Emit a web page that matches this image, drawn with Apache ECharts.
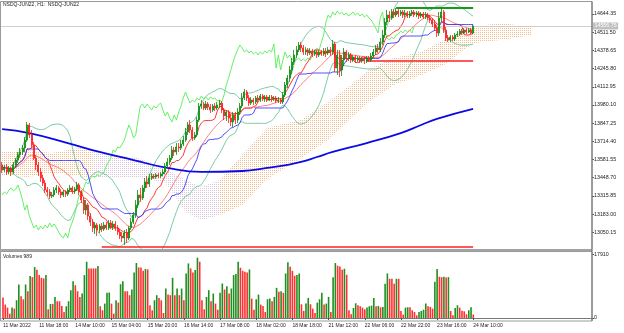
<!DOCTYPE html>
<html><head><meta charset="utf-8">
<script src="https://cdn.jsdelivr.net/npm/echarts/dist/echarts.min.js"></script>
<style>html,body{margin:0;padding:0;background:#fff}#c{width:624px;height:333px}</style>
</head><body><div id="c"></div>
<script>
// ---------- DATA ----------
const xLabels = ["11 Mar 2022","11 Mar 18:00","14 Mar 10:00","15 Mar 04:00","15 Mar 20:00","16 Mar 14:00","17 Mar 08:00","18 Mar 02:00","18 Mar 18:00","21 Mar 12:00","22 Mar 06:00","22 Mar 22:00","23 Mar 16:00","24 Mar 10:00"];
const labelEvery = 16;
// [open, close, low, high]
const ohlc = [
[13542,13505,13483,13564],[13505,13527,13491,13542],[13527,13491,13469,13549],[13491,13520,13476,13534],[13520,13491,13461,13527],
[13491,13542,13476,13564],[13542,13578,13520,13593],[13578,13615,13556,13637],[13615,13637,13593,13666],[13637,13666,13615,13688],
[13666,13724,13637,13746],[13724,13834,13710,13856],[13834,13761,13739,13848],[13761,13688,13666,13797],[13688,13593,13578,13710],
[13593,13542,13505,13615],[13542,13491,13461,13564],[13491,13447,13418,13520],[13447,13410,13388,13469],[13410,13359,13337,13432],
[13359,13345,13315,13381],[13345,13315,13293,13366],[13315,13323,13301,13345],[13323,13359,13308,13381],[13359,13374,13337,13396],
[13374,13345,13323,13388],[13345,13323,13301,13366],[13323,13345,13308,13359],[13345,13330,13308,13359],[13330,13359,13315,13374],
[13359,13374,13345,13396],[13374,13352,13330,13388],[13352,13366,13330,13381],[13366,13396,13352,13418],[13396,13345,13323,13410],
[13345,13286,13264,13359],[13286,13213,13184,13301],[13213,13250,13177,13286],[13250,13169,13140,13264],[13169,13125,13096,13191],
[13125,13082,13052,13147],[13082,13103,13038,13125],[13103,13067,13023,13118],[13067,13096,13045,13111],[13096,13074,13052,13118],
[13074,13103,13060,13125],[13103,13082,13067,13125],[13082,13118,13067,13140],[13118,13089,13074,13140],[13089,13111,13067,13133],
[13111,13082,13060,13133],[13082,13052,13030,13103],[13052,13023,13001,13074],[13023,13009,12979,13052],[13009,13045,12957,13067],
[13045,13009,12972,13074],[13009,13082,12994,13096],[13082,13125,13067,13155],[13125,13177,13111,13198],[13177,13250,13155,13286],
[13250,13323,13228,13359],[13323,13301,13272,13374],[13301,13374,13286,13396],[13374,13418,13345,13447],[13418,13403,13374,13461],
[13403,13447,13381,13476],[13447,13461,13432,13483],[13461,13454,13440,13476],[13454,13469,13440,13483],[13469,13461,13447,13483],
[13461,13476,13447,13491],[13476,13491,13461,13512],[13491,13534,13476,13556],[13534,13564,13520,13593],[13564,13593,13542,13615],
[13593,13651,13578,13680],[13651,13637,13607,13673],[13637,13673,13615,13702],[13673,13666,13637,13702],[13666,13695,13651,13724],
[13695,13724,13680,13753],[13724,13783,13710,13812],[13783,13834,13761,13856],[13834,13797,13775,13870],[13797,13739,13717,13819],
[13739,13761,13724,13783],[13761,13870,13746,13892],[13870,13972,13856,13994],[13972,13987,13951,14016],[13987,13958,13943,14002],
[13958,13987,13943,14009],[13987,13965,13943,14002],[13965,13943,13921,13987],[13943,13972,13929,13987],[13972,13958,13936,13994],
[13958,13980,13943,14002],[13980,13994,13958,14016],[13994,13943,13921,14009],[13943,13900,13870,13958],[13900,13929,13863,13943],
[13929,13885,13848,13943],[13885,13856,13826,13914],[13856,13907,13819,13929],[13907,13870,13841,13929],[13870,13929,13848,13958],
[13929,13972,13907,13994],[13972,14031,13958,14067],[14031,14075,14016,14097],[14075,14031,14009,14089],[14031,13994,13972,14053],
[13994,14016,13980,14038],[14016,14002,13980,14031],[14002,14031,13987,14046],[14031,14016,13994,14053],[14016,14046,14002,14060],
[14046,14024,14009,14060],[14024,14038,14002,14053],[14038,14016,14002,14053],[14016,14038,14009,14053],[14038,14024,14002,14053],
[14024,14031,14009,14046],[14031,14009,13994,14046],[14009,14016,13994,14038],[14016,14002,13987,14031],[14002,14053,13987,14075],
[14053,14126,14038,14148],[14126,14177,14104,14199],[14177,14235,14148,14265],[14235,14294,14206,14323],[14294,14345,14272,14382],
[14345,14382,14323,14411],[14382,14418,14367,14440],[14418,14396,14367,14440],[14396,14367,14345,14418],[14367,14382,14345,14403],
[14382,14360,14338,14396],[14360,14374,14345,14396],[14374,14352,14330,14389],[14352,14367,14338,14382],[14367,14345,14323,14382],
[14345,14367,14330,14382],[14367,14352,14338,14382],[14352,14374,14338,14396],[14374,14360,14330,14396],[14360,14382,14345,14403],
[14382,14367,14338,14403],[14367,14425,14345,14455],[14425,14250,14221,14440],[14250,14345,14199,14382],[14345,14235,14184,14382],
[14235,14308,14192,14345],[14308,14367,14265,14396],[14367,14323,14294,14382],[14323,14345,14301,14367],[14345,14308,14287,14360],
[14308,14330,14294,14345],[14330,14308,14287,14345],[14308,14323,14294,14338],[14323,14301,14287,14338],[14301,14316,14287,14330],
[14316,14301,14279,14330],[14301,14323,14287,14338],[14323,14308,14294,14338],[14308,14338,14294,14360],[14338,14367,14323,14389],
[14367,14396,14345,14418],[14396,14382,14360,14425],[14382,14440,14367,14469],[14440,14491,14418,14528],[14491,14586,14469,14615],
[14586,14637,14564,14674],[14637,14615,14586,14666],[14615,14659,14601,14681],[14659,14637,14615,14681],[14637,14666,14622,14688],
[14666,14644,14622,14681],[14644,14659,14630,14674],[14659,14637,14615,14674],[14637,14652,14622,14674],[14652,14630,14615,14666],
[14630,14644,14615,14666],[14644,14659,14630,14674],[14659,14637,14622,14674],[14637,14652,14622,14666],[14652,14630,14608,14666],
[14630,14644,14615,14659],[14644,14622,14608,14659],[14622,14637,14608,14659],[14637,14615,14601,14652],[14615,14601,14579,14637],
[14601,14571,14549,14615],[14571,14542,14520,14601],[14542,14506,14476,14564],[14506,14615,14484,14659],[14615,14659,14586,14695],
[14659,14528,14506,14674],[14528,14469,14447,14549],[14469,14455,14440,14491],[14455,14476,14440,14491],[14476,14462,14447,14491],
[14462,14491,14447,14506],[14491,14498,14476,14520],[14498,14520,14484,14535],[14520,14506,14491,14535],[14506,14528,14498,14542],
[14528,14513,14498,14542],[14513,14528,14506,14542],[14528,14506,14498,14542],[14506,14556.75,14498,14564]
];
const volumes = [
5750,3770,2920,1220,2920,2640,4990,9420,6120,5270,
9420,7540,11780,11490,14320,13560,12060,11300,11120,12060,
2450,3960,3960,5930,4710,4710,3390,1700,3300,4710,
7820,10360,9230,7540,5930,6880,12060,15830,13940,13940,
13940,13940,14600,3300,2170,4050,7070,7160,4050,1220,
4990,4330,9510,10360,7540,7540,6410,8010,12810,15450,
14220,14220,13280,13750,13660,3580,2170,4990,6410,5650,
4990,1410,8290,6590,6410,11300,6410,8290,6410,8290,
4990,12530,15350,13940,12810,13470,16960,15830,4990,2450,
5930,7820,4710,6880,4050,2350,7070,9700,8010,8950,
6880,8290,12060,12340,15830,14130,13280,13000,12810,13660,
5460,2350,5270,6590,3770,3390,1700,5270,5460,4710,
5930,8480,7350,7540,7070,12530,15640,14410,13280,11870,
12060,12530,3860,1980,4050,5650,3860,2640,1410,4330,
5270,7070,3770,4050,5930,1700,11480,15450,14690,14500,
13560,13840,12150,2170,1040,2830,4140,3580,3300,2920,
2450,2920,3300,3480,5650,3300,3390,3010,3110,9600,
12530,11020,11020,9600,11020,11020,1980,940,2920,3010,
3010,2170,1700,750,1700,1980,2350,4050,3300,3110,
2640,10170,13750,11590,11490,11590,11400,11490,1980,750,
2830,3580,2920,2070,1880,1040,2170,3010,989
];
// MA(200) read at points: [barIndex, price]
const ma200Pts = [[0,13804],[12,13775],[29,13702],[43,13637],[58,13578],[73,13520],[88,13491],[106,13498],[117,13520],[126,13542],[132,13564],[139,13600],[146,13637],[161,13702],[176,13775],[185,13834],[192,13878],[208,13951]];
// Ichimoku cloud read at points: [barIndex, upper, lower, bullish(1)/bearish(0)]
const cloudPts = [[0,13637,13469,1],[11,13651,13454,1],[22,13629,13483,1],[34,13666,13461,1],[40,13651,13447,0],[48,13615,13447,0],[60,13593,13447,0],[72,13520,13418,0],[81,13432,13198,0],[88,13381,13140,0],[96,13432,13176,1],[106,13615,13250,1],[117,13812,13440,1],[132,13870,13593,1],[145,14016,13739,1],[154,14126,13885,1],[163,14250,14016,1],[173,14323,14126,1],[185,14367,14199,1],[195,14455,14272,1],[208,14549,14433,1],[220,14579,14455,1],[234,14549,14491,1]];
// drawn horizontal levels: [fromBar, toBar, price]
const levelGreen = [174, 208, 14688];
const levelRedMid = [161, 208, 14301];
const levelRedLow = [44, 208, 12946];
const totalSlots = 261;

// ---------- DERIVED ----------
const n = ohlc.length;
const closes = ohlc.map(d => d[1]);
function midRange(p){return ohlc.map((d,i)=>{let hi=-1e9,lo=1e9;for(let j=Math.max(0,i-p+1);j<=i;j++){hi=Math.max(hi,ohlc[j][3]);lo=Math.min(lo,ohlc[j][2]);}return +((hi+lo)/2).toFixed(2);});}
const tenkan = midRange(9), kijun = midRange(26);
const chikou = closes.slice(26);
function sma(p,minN){return closes.map((c,i)=>{if(i<minN)return null;const s=Math.max(0,i-p+1);let t=0;for(let j=s;j<=i;j++)t+=closes[j];return +(t/(i-s+1)).toFixed(2);});}
const sma21 = sma(21,3);
const bbU=[],bbL=[];
closes.forEach((c,i)=>{if(i<4){bbU.push(null);bbL.push(null);return;}const s=Math.max(0,i-19);let t=0;for(let j=s;j<=i;j++)t+=closes[j];const m=t/(i-s+1);let v=0;for(let j=s;j<=i;j++)v+=(closes[j]-m)**2;const sd=Math.sqrt(v/(i-s+1));bbU.push(+(m+2*sd).toFixed(2));bbL.push(+(m-2*sd).toFixed(2));});
const cats = Array.from({length: totalSlots}, (_, i) => String(i));
const isLabel = i => i % labelEvery === 0 && i / labelEvery < xLabels.length;
const cloudSegs = [];
for (let k = 0; k < cloudPts.length - 1; k++) { const a = cloudPts[k], b = cloudPts[k+1]; cloudSegs.push([a[0],a[1],a[2],b[0],b[1],b[2],a[3]]); }
function pat(color){const c=document.createElement('canvas');c.width=2;c.height=2;const g=c.getContext('2d');g.fillStyle=color;g.fillRect(0,0,1,1);return {image:c,repeat:'repeat'};}
const patUp = pat('#f7bb8c'), patDn = pat('#dcc6dc');
const volData = volumes.map((v,i)=>({value:v,itemStyle:{color:(i>0&&v>volumes[i-1])?'#1f8f1f':'#ff3030'}}));
const priceMin = 12917.3, priceMax = 14732.0, priceStep = 132.85;
const volMax = 18557, volStep = 17910;
const lastClose = closes[n-1];
const FONT = 'Liberation Sans';

const chart = echarts.init(document.getElementById('c'), null, {renderer:'canvas'});
const line = (data, color, w, extra) => Object.assign({type:'line', data, symbol:'none', lineStyle:{color, width:w}, xAxisIndex:0, yAxisIndex:0, silent:true, z:3}, extra||{});
chart.setOption({
  animation:false, backgroundColor:'#fff',
  grid:[{left:1, top:2, width:591, height:248.5},{left:1, top:252, width:591, height:66}],
  xAxis:[
    {type:'category', gridIndex:0, data:cats, boundaryGap:true, show:false},
    {type:'category', gridIndex:1, data:cats, boundaryGap:true, offset:3,
     axisLine:{show:true, lineStyle:{color:'#777', width:1}},
     axisTick:{show:true, alignWithLabel:true, interval:(i)=>isLabel(i), length:2, lineStyle:{color:'#555'}},
     axisLabel:{interval:(i)=>isLabel(i), formatter:(v,i)=>isLabel(i)?xLabels[i/labelEvery]:'', align:'left', fontSize:5, color:'#222', fontFamily:FONT, margin:2}}
  ],
  yAxis:[
    {type:'value', gridIndex:0, min:priceMin, max:priceMax, show:false, scale:true},
    {type:'value', gridIndex:0, position:'right', min:0, max:+(priceMax-priceMin).toFixed(2), interval:priceStep,
     axisLine:{show:false}, splitLine:{show:false},
     axisTick:{show:true, length:2, lineStyle:{color:'#555'}},
     axisLabel:{showMinLabel:false, showMaxLabel:false, formatter:(v)=>(v+priceMin).toFixed(2), fontSize:5.3, color:'#222', fontFamily:FONT, margin:2}},
    {type:'value', gridIndex:1, position:'right', min:0, max:volMax, interval:volStep,
     axisLine:{show:false}, splitLine:{show:false},
     axisTick:{show:true, length:2, lineStyle:{color:'#555'}},
     axisLabel:{showMaxLabel:false, formatter:(v)=>String(Math.round(v)), fontSize:5.3, color:'#222', fontFamily:FONT, margin:2}}
  ],
  graphic:[
    {type:'rect', shape:{x:0.5,y:1.5,width:591.5,height:248}, style:{fill:null, stroke:'#9a9a9a', lineWidth:1}, silent:true, z:100},
    {type:'rect', shape:{x:0,y:249.3,width:592,height:2.4}, style:{fill:'#a4a4a4'}, silent:true, z:100},
    {type:'rect', shape:{x:0.5,y:251.5,width:591.5,height:69.5}, style:{fill:null, stroke:'#9a9a9a', lineWidth:1}, silent:true, z:100},
    {type:'line', shape:{x1:592,y1:1.5,x2:592,y2:321}, style:{stroke:'#6a6a6a', lineWidth:1}, silent:true, z:101},
    {type:'text', left:3, top:2.5, style:{text:'NSDQ-JUN22, H1:  NSDQ-JUN22', fontSize:5, fill:'#222', fontFamily:FONT}, silent:true, z:102},
    {type:'text', left:3, top:254, style:{text:'Volumes ' + volumes[n-1], fontSize:5, fill:'#222', fontFamily:FONT}, silent:true, z:102}
  ],
  series:[
    {type:'custom', xAxisIndex:0, yAxisIndex:0, data:cloudSegs, encode:{x:[0,3], y:[1,2,4,5]}, silent:true, z:1, clip:true,
     renderItem:(params, api)=>{
       const a=api.coord([api.value(0),api.value(1)]), b=api.coord([api.value(3),api.value(4)]), c=api.coord([api.value(3),api.value(5)]), d=api.coord([api.value(0),api.value(2)]);
       return {type:'polygon', shape:{points:[a,b,c,d]}, style:{fill: api.value(6) ? patUp : patDn, stroke:null}};
     }},
    line(bbU, '#6cc49a', 0.9), line(bbL, '#6cc49a', 0.9),
    line(chikou, '#55ee55', 0.9),
    line(sma21, '#ff7070', 0.9),
    line(tenkan, '#ff2020', 0.9),
    line(kijun, '#3a3aff', 0.9),
    line(ma200Pts, '#0a0ae6', 1.8, {smooth:true}),
    {type:'candlestick', xAxisIndex:0, yAxisIndex:0, data:ohlc, barWidth:1.5, z:5, silent:true,
     itemStyle:{color:'#0b8a0b', color0:'#ff1a1a', borderColor:'#0b8a0b', borderColor0:'#ff1a1a', borderWidth:0.8},
     markLine:{symbol:'none', silent:true, animation:false,
       data:[
         {yAxis:lastClose, lineStyle:{color:'#c4c4c4', width:0.8, type:'solid'},
          label:{show:true, position:'end', formatter:()=>lastClose.toFixed(2), backgroundColor:'#c0c0c0', color:'#fff', fontSize:5.3, fontFamily:FONT, padding:[1,1.5], distance:1}},
         [{coord:[levelGreen[0],levelGreen[2]], lineStyle:{color:'#1a9a1a', width:2, type:'solid'}, label:{show:false}},{coord:[levelGreen[1],levelGreen[2]]}],
         [{coord:[levelRedMid[0],levelRedMid[2]], lineStyle:{color:'#ff2020', width:1.5, type:'solid'}, label:{show:false}},{coord:[levelRedMid[1],levelRedMid[2]]}],
         [{coord:[levelRedLow[0],levelRedLow[2]], lineStyle:{color:'#ff2020', width:1.5, type:'solid'}, label:{show:false}},{coord:[levelRedLow[1],levelRedLow[2]]}]
       ]}},
    {type:'bar', xAxisIndex:1, yAxisIndex:2, data:volData, barWidth:1.6, silent:true}
  ]
});
</script></body></html>
